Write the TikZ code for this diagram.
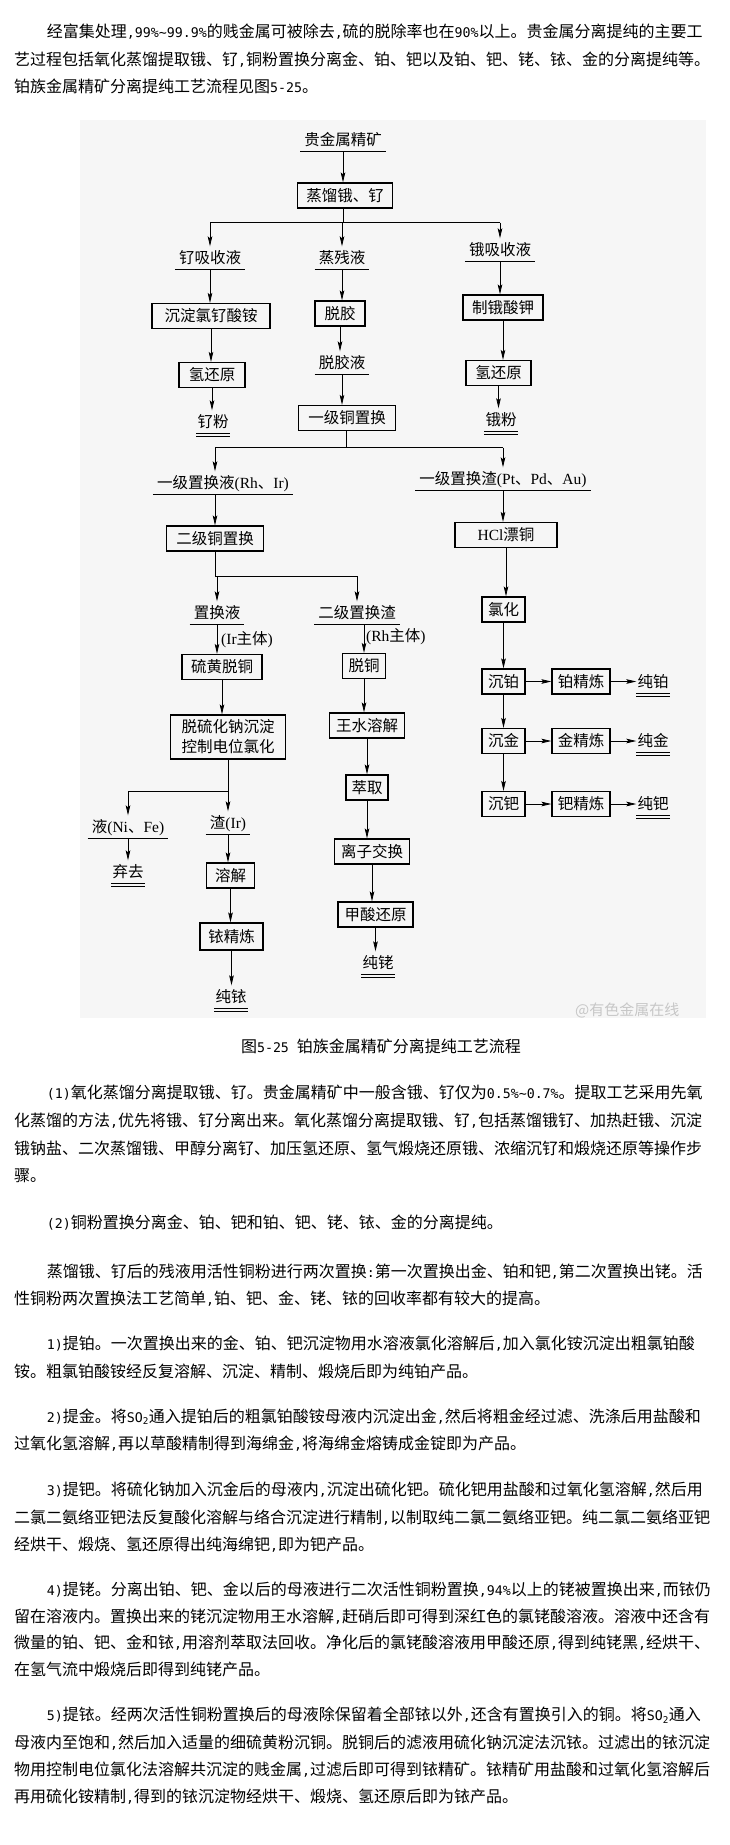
\documentclass[tikz,border=0pt]{standalone}
\usepackage{fontspec}
\setmainfont{Noto Sans CJK SC}
\newfontfamily\lat{Liberation Serif}
\newfontfamily\asc[Scale=0.83]{DejaVu Sans Mono}
\usetikzlibrary{arrows.meta}
\newcommand\hw[1]{{\asc #1}}
\newcommand\ulab[1]{\draw[ul] (#1.south west) -- (#1.south east);}
\newcommand\dulab[1]{\draw[ul] (#1.south west) -- (#1.south east);\draw[ul] ([yshift=-3pt]#1.south west) -- ([yshift=-3pt]#1.south east);}
\newcommand\vto[2]{\draw[arr] (#1.south) -- (#1.south |- #2.north);}
\definecolor{bgc}{RGB}{246,246,246}
\tikzset{
  tx/.style={anchor=west, inner sep=0pt, font=\fontsize{16}{18}\selectfont, text height=12.5pt, text depth=1.5pt},
  dg/.style={font=\fontsize{15.5}{20}\selectfont, text height=12pt, text depth=1pt},
  box/.style={dg, draw, line width=1.3pt, minimum height=25pt, inner xsep=5pt, inner ysep=0pt, align=center},
  lab/.style={dg, inner xsep=4pt, inner ysep=5pt},
  prod/.style={dg, inner xsep=1pt, inner ysep=5pt},
  arr/.style={line width=0.8pt, -{Stealth[length=10pt,width=4.6pt,inset=2pt]}},
  ln/.style={line width=0.8pt},
  ul/.style={line width=1.1pt},
}
\begin{document}
\begin{tikzpicture}[x=1pt,y=-1pt]
\useasboundingbox (0,0) rectangle (730,1845);
\fill[white] (0,0) rectangle (730,1845);
% top text
\node[tx] (t1) at (46.6,32) {经富集处理\hw{,99\%\textasciitilde99.9\%}的贱金属可被除去\hw{,}硫的脱除率也在\hw{90\%}以上。贵金属分离提纯的主要工};
\node[tx] (t2) at (14,59.5) {艺过程包括氧化蒸馏提取锇、钌\hw{,}铜粉置换分离金、铂、钯以及铂、钯、铑、铱、金的分离提纯等。};
\node[tx] (t3) at (14,87) {铂族金属精矿分离提纯工艺流程见图\hw{5-25}。};
% figure background
\fill[bgc] (80,120) rectangle (706,1018);
% nodes
\node[lab] (L0) at (343,140) {贵金属精矿};
\node[box, minimum width=95pt] (B0) at (345,195.5) {蒸馏锇、钌};
\coordinate (j1) at (343,222.7);
\node[lab] (L1) at (210,258) {钌吸收液};
\node[lab] (L2) at (342,258) {蒸残液};
\node[lab] (L3) at (500,250) {锇吸收液};
\node[box, minimum width=118pt] (B1) at (211,316) {沉淀氯钌酸铵};
\node[box, minimum width=50pt] (B2) at (340,313.5) {脱胶};
\node[box, minimum width=80pt] (B3) at (503,307.5) {制锇酸钾};
\node[box, minimum width=66pt] (B4) at (212,375) {氢还原};
\node[lab] (L5) at (342,363) {脱胶液};
\node[box, minimum width=65pt] (B6) at (498.5,373) {氢还原};
\node[prod] (L4) at (213,422) {钌粉};
\node[prod] (L6) at (501,420) {锇粉};
\node[box, minimum width=97pt] (B5) at (347,418) {一级铜置换};
\coordinate (j2) at (346,447.7);
\node[lab] (L7) at (223,483) {一级置换液{\lat(Rh}、{\lat Ir)}};
\node[lab] (L8) at (503,479) {一级置换渣{\lat(Pt}、{\lat Pd}、{\lat Au)}};
\node[box, minimum width=97pt] (B7) at (215,538.5) {二级铜置换};
\node[box, minimum width=102pt] (B8) at (506,535) {{\lat HCl}漂铜};
\coordinate (j3) at (215,576);
\node[lab] (L9) at (217,613) {置换液};
\node[lab] (L10) at (357,613) {二级置换渣};
\node[box, minimum width=43pt] (B14) at (503.5,609.5) {氯化};
\node[dg, anchor=west, inner sep=0pt] (I1) at (221,639) {{\lat(Ir}主体{\lat)}};
\node[dg, anchor=west, inner sep=0pt] (I2) at (366,636) {{\lat(Rh}主体{\lat)}};
\node[box, minimum width=80pt] (B9) at (222,667) {硫黄脱铜};
\node[box, minimum width=43pt] (B10) at (364,666) {脱铜};
\node[box, minimum width=43pt] (B15) at (503.5,681.5) {沉铂};
\node[box, minimum width=58pt] (B16) at (581,681.5) {铂精炼};
\node[prod] (L16) at (653,681.5) {纯铂};
\node[box, minimum width=115pt, minimum height=44pt, text height={}, text depth={}] (B11) at (228,737) {脱硫化钠沉淀\\控制电位氯化};
\node[box, minimum width=75pt] (B12) at (367,725.5) {王水溶解};
\node[box, minimum width=43pt] (B17) at (503.5,741) {沉金};
\node[box, minimum width=58pt] (B18) at (581,741) {金精炼};
\node[prod] (L17) at (653,741) {纯金};
\node[box, minimum width=42pt] (B13) at (367,787.5) {萃取};
\node[box, minimum width=43pt] (B19) at (503.5,804) {沉钯};
\node[box, minimum width=58pt] (B20) at (581,804) {钯精炼};
\node[prod] (L18) at (653,804) {纯钯};
\coordinate (j4) at (228,791.7);
\node[lab] (L11) at (128,827) {液{\lat(Ni}、{\lat Fe)}};
\node[lab] (L12) at (228,823) {渣{\lat(Ir)}};
\node[box, minimum width=75pt] (B23) at (372,851.5) {离子交换};
\node[prod] (L13) at (128,872) {弃去};
\node[box, minimum width=48pt] (B21) at (230.5,875.5) {溶解};
\node[box, minimum width=75pt] (B24) at (375.5,914.5) {甲酸还原};
\node[box, minimum width=63pt, minimum height=27pt] (B22) at (231.5,936.5) {铱精炼};
\node[prod] (L15) at (378,963) {纯铑};
\node[prod] (L14) at (231,997) {纯铱};
% underlines
\ulab{L0}\ulab{L1}\ulab{L2}\ulab{L3}\ulab{L5}\ulab{L7}\ulab{L8}\ulab{L9}\ulab{L10}\ulab{L11}\ulab{L12}
\dulab{L4}\dulab{L6}\dulab{L13}\dulab{L14}\dulab{L15}\dulab{L16}\dulab{L17}\dulab{L18}
% connectors
\vto{L0}{B0}
\draw[ln] (B0.south -| j1) -- (j1);
\draw[ln] (j1 -| L1) -- (j1 -| L3);
\draw[arr] (j1 -| L1) -- (L1.north);
\draw[arr] (j1 -| L2) -- (L2.north);
\draw[arr] (j1 -| L3) -- (L3.north);
\vto{L1}{B1}\vto{B1}{B4}\vto{B4}{L4}
\vto{L2}{B2}\vto{B2}{L5}\vto{L5}{B5}
\vto{L3}{B3}\vto{B3}{B6}\vto{B6}{L6}
\draw[ln] (B5.south -| j2) -- (j2);
\draw[ln] (j2 -| B7) -- (j2 -| L8);
\draw[arr] (j2 -| B7) -- (B7 |- L7.north);
\draw[arr] (j2 -| L8) -- (L8.north);
\draw[arr] (B7 |- L7.south) -- (B7.north);
\vto{L8}{B8}
\draw[ln] (B7.south) -- (j3) -- (j3 -| L10);
\draw[arr] (j3 -| L9) -- (L9.north);
\draw[arr] (j3 -| L10) -- (L10.north);
\vto{L9}{B9}
\draw[arr] (B10 |- L10.south) -- (B10.north);
\vto{B9}{B11}
\vto{B10}{B12}\vto{B12}{B13}\vto{B13}{B23}\vto{B23}{B24}\vto{B24}{L15}
\draw[ln] (B11.south) -- (j4) -- (j4 -| L11);
\draw[arr] (j4 -| L11) -- (L11.north);
\draw[arr] (j4) -- (j4 |- L12.north);
\vto{L11}{L13}
\vto{L12}{B21}\vto{B21}{B22}\vto{B22}{L14}
\vto{B8}{B14}\vto{B14}{B15}\vto{B15}{B17}\vto{B17}{B19}
\draw[arr] (B15) -- (B16);
\draw[arr] (B16) -- (L16);
\draw[arr] (B17) -- (B18);
\draw[arr] (B18) -- (L17);
\draw[arr] (B19) -- (B20);
\draw[arr] (B20) -- (L18);
% watermark and caption
\node[anchor=west, inner sep=0pt, font=\fontsize{15}{17}\selectfont, text=black!22] (wm) at (575,1010) {@有色金属在线};
\node[inner sep=0pt, font=\fontsize{16}{18}\selectfont, text height=12.5pt, text depth=1.5pt] (cap) at (381,1047) {图\hw{5-25 }铂族金属精矿分离提纯工艺流程};
% body text
\node[tx] (p1) at (46.6,1093.3) {\hw{(1)}氧化蒸馏分离提取锇、钌。贵金属精矿中一般含锇、钌仅为\hw{0.5\%\textasciitilde0.7\%}。提取工艺采用先氧};
\node[tx] (p2) at (14,1121) {化蒸馏的方法\hw{,}优先将锇、钌分离出来。氧化蒸馏分离提取锇、钌\hw{,}包括蒸馏锇钌、加热赶锇、沉淀};
\node[tx] (p3) at (14,1148.5) {锇钠盐、二次蒸馏锇、甲醇分离钌、加压氢还原、氢气煅烧还原锇、浓缩沉钌和煅烧还原等操作步};
\node[tx] (p4) at (14,1176) {骤。};
\node[tx] (p5) at (46.6,1222.7) {\hw{(2)}铜粉置换分离金、铂、钯和铂、钯、铑、铱、金的分离提纯。};
\node[tx] (p6) at (46.6,1271.7) {蒸馏锇、钌后的残液用活性铜粉进行两次置换\hw{:}第一次置换出金、铂和钯\hw{,}第二次置换出铑。活};
\node[tx] (p7) at (14,1299.3) {性铜粉两次置换法工艺简单\hw{,}铂、钯、金、铑、铱的回收率都有较大的提高。};
\node[tx] (p8) at (46.6,1344.3) {\hw{1)}提铂。一次置换出来的金、铂、钯沉淀物用水溶液氯化溶解后\hw{,}加入氯化铵沉淀出粗氯铂酸};
\node[tx] (p9) at (14,1371.7) {铵。粗氯铂酸铵经反复溶解、沉淀、精制、煅烧后即为纯铂产品。};
\node[tx] (p10) at (46.6,1416.7) {\hw{2)}提金。将\hw{SO\textsubscript{2}}通入提铂后的粗氯铂酸铵母液内沉淀出金\hw{,}然后将粗金经过滤、洗涤后用盐酸和};
\node[tx] (p11) at (14,1443.5) {过氧化氢溶解\hw{,}再以草酸精制得到海绵金\hw{,}将海绵金熔铸成金锭即为产品。};
\node[tx] (p12) at (46.6,1490) {\hw{3)}提钯。将硫化钠加入沉金后的母液内\hw{,}沉淀出硫化钯。硫化钯用盐酸和过氧化氢溶解\hw{,}然后用};
\node[tx] (p13) at (14,1517.7) {二氯二氨络亚钯法反复酸化溶解与络合沉淀进行精制\hw{,}以制取纯二氯二氨络亚钯。纯二氯二氨络亚钯};
\node[tx] (p14) at (14,1545) {经烘干、煅烧、氢还原得出纯海绵钯\hw{,}即为钯产品。};
\node[tx] (p15) at (46.6,1590) {\hw{4)}提铑。分离出铂、钯、金以后的母液进行二次活性铜粉置换\hw{,94\%}以上的铑被置换出来\hw{,}而铱仍};
\node[tx] (p16) at (14,1616.7) {留在溶液内。置换出来的铑沉淀物用王水溶解\hw{,}赶硝后即可得到深红色的氯铑酸溶液。溶液中还含有};
\node[tx] (p17) at (14,1643.3) {微量的铂、钯、金和铱\hw{,}用溶剂萃取法回收。净化后的氯铑酸溶液用甲酸还原\hw{,}得到纯铑黑\hw{,}经烘干、};
\node[tx] (p18) at (14,1670) {在氢气流中煅烧后即得到纯铑产品。};
\node[tx] (p19) at (46.6,1715) {\hw{5)}提铱。经两次活性铜粉置换后的母液除保留着全部铱以外\hw{,}还含有置换引入的铜。将\hw{SO\textsubscript{2}}通入};
\node[tx] (p20) at (14,1743.3) {母液内至饱和\hw{,}然后加入适量的细硫黄粉沉铜。脱铜后的滤液用硫化钠沉淀法沉铱。过滤出的铱沉淀};
\node[tx] (p21) at (14,1770) {物用控制电位氯化法溶解共沉淀的贱金属\hw{,}过滤后即可得到铱精矿。铱精矿用盐酸和过氧化氢溶解后};
\node[tx] (p22) at (14,1796.7) {再用硫化铵精制\hw{,}得到的铱沉淀物经烘干、煅烧、氢还原后即为铱产品。};
\end{tikzpicture}
\end{document}
